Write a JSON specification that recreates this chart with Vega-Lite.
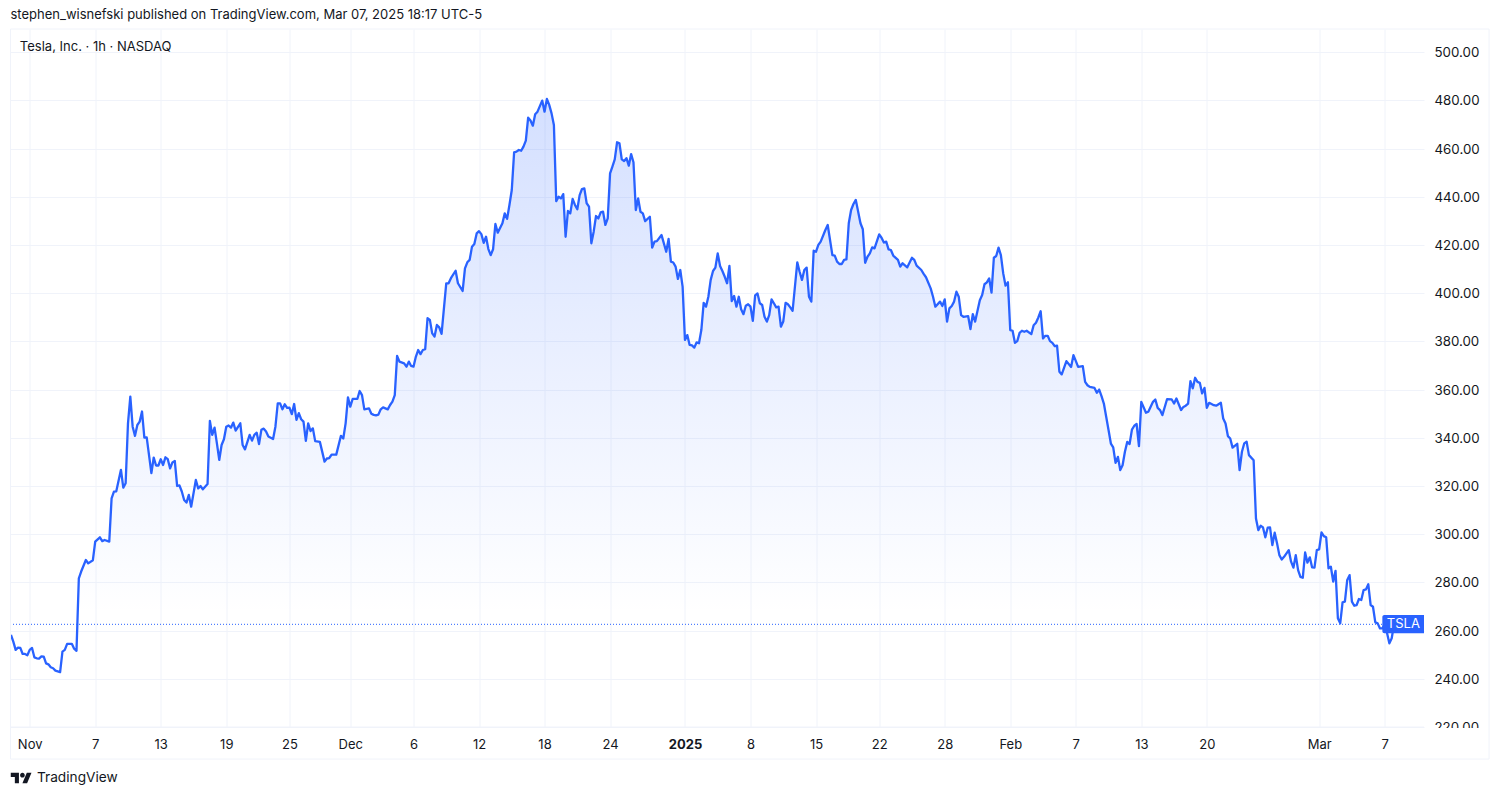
{"$schema":"https://vega.github.io/schema/vega-lite/v6.json","width":1413.5,"height":698,"autosize":{"type":"none"},"padding":{"left":10.5,"top":29,"right":76,"bottom":70},"background":"white","view":{"stroke":null},"config":{"font":"Inter"},
"title":{"text":"stephen_wisnefski published on TradingView.com, Mar 07, 2025 18:17 UTC-5","anchor":"start","frame":"group","fontSize":13,"fontWeight":"normal","color":"#131722","font":"Inter","offset":7},
"datasets":{"prices":[
{"bar":0,"close":258.2},{"bar":1,"close":255.4},{"bar":2,"close":252.0},{"bar":3,"close":252.9},{"bar":4,"close":252.8},{"bar":5,"close":250.3},{"bar":6,"close":250.3},{"bar":7,"close":249.8},{"bar":8,"close":252.0},{"bar":9,"close":252.8},{"bar":10,"close":248.9},{"bar":11,"close":248.5},{"bar":12,"close":248.4},{"bar":13,"close":249.3},{"bar":14,"close":249.2},{"bar":15,"close":246.4},{"bar":16,"close":246.0},{"bar":17,"close":244.8},{"bar":18,"close":244.4},{"bar":19,"close":243.4},{"bar":21,"close":242.8},{"bar":22,"close":251.3},{"bar":23,"close":252.0},{"bar":24,"close":254.5},{"bar":26,"close":254.5},{"bar":27,"close":252.5},{"bar":28,"close":251.6},{"bar":29,"close":281.7},{"bar":30,"close":284.5},{"bar":32,"close":289.3},{"bar":33,"close":287.9},{"bar":35,"close":289.2},{"bar":36,"close":296.9},{"bar":38,"close":298.7},{"bar":39,"close":297.1},{"bar":40,"close":297.6},{"bar":42,"close":296.9},{"bar":43,"close":314.9},{"bar":44,"close":317.7},{"bar":45,"close":317.8},{"bar":47,"close":326.7},{"bar":48,"close":319.3},{"bar":49,"close":321.1},{"bar":50,"close":346.0},{"bar":51,"close":357.1},{"bar":52,"close":344.6},{"bar":53,"close":340.8},{"bar":54,"close":345.3},{"bar":55,"close":346.7},{"bar":56,"close":350.9},{"bar":57,"close":340.1},{"bar":58,"close":340.2},{"bar":60,"close":325.3},{"bar":61,"close":331.8},{"bar":62,"close":328.5},{"bar":63,"close":328.5},{"bar":64,"close":331.1},{"bar":65,"close":328.7},{"bar":66,"close":331.9},{"bar":67,"close":331.1},{"bar":68,"close":327.3},{"bar":69,"close":329.8},{"bar":70,"close":330.4},{"bar":71,"close":320.0},{"bar":72,"close":320.2},{"bar":73,"close":317.7},{"bar":74,"close":314.2},{"bar":75,"close":313.1},{"bar":76,"close":316.3},{"bar":77,"close":311.4},{"bar":79,"close":322.5},{"bar":80,"close":319.0},{"bar":81,"close":320.0},{"bar":82,"close":318.6},{"bar":84,"close":320.8},{"bar":85,"close":347.0},{"bar":86,"close":341.2},{"bar":87,"close":344.2},{"bar":88,"close":337.7},{"bar":89,"close":330.8},{"bar":90,"close":337.0},{"bar":91,"close":339.4},{"bar":92,"close":344.6},{"bar":93,"close":345.1},{"bar":94,"close":344.2},{"bar":95,"close":346.3},{"bar":96,"close":343.0},{"bar":98,"close":346.0},{"bar":99,"close":337.0},{"bar":100,"close":335.2},{"bar":102,"close":341.2},{"bar":103,"close":338.8},{"bar":104,"close":341.2},{"bar":105,"close":342.1},{"bar":106,"close":337.4},{"bar":107,"close":343.3},{"bar":108,"close":343.8},{"bar":109,"close":342.6},{"bar":110,"close":340.5},{"bar":112,"close":339.5},{"bar":113,"close":344.6},{"bar":114,"close":354.3},{"bar":115,"close":354.3},{"bar":116,"close":351.8},{"bar":117,"close":353.9},{"bar":118,"close":352.4},{"bar":119,"close":352.5},{"bar":120,"close":349.8},{"bar":121,"close":354.0},{"bar":122,"close":347.4},{"bar":123,"close":350.2},{"bar":124,"close":347.7},{"bar":125,"close":346.7},{"bar":126,"close":338.7},{"bar":127,"close":346.0},{"bar":128,"close":342.8},{"bar":129,"close":343.9},{"bar":130,"close":338.6},{"bar":132,"close":338.3},{"bar":134,"close":330.1},{"bar":135,"close":331.4},{"bar":136,"close":331.6},{"bar":137,"close":333.0},{"bar":139,"close":333.0},{"bar":141,"close":340.8},{"bar":142,"close":339.7},{"bar":143,"close":346.0},{"bar":144,"close":356.8},{"bar":145,"close":352.9},{"bar":146,"close":356.1},{"bar":148,"close":356.1},{"bar":149,"close":359.4},{"bar":150,"close":357.7},{"bar":151,"close":351.8},{"bar":153,"close":352.2},{"bar":154,"close":350.0},{"bar":155,"close":349.5},{"bar":156,"close":349.3},{"bar":157,"close":349.6},{"bar":158,"close":351.8},{"bar":159,"close":352.6},{"bar":161,"close":351.8},{"bar":162,"close":353.6},{"bar":163,"close":355.0},{"bar":164,"close":357.7},{"bar":165,"close":374.0},{"bar":166,"close":371.6},{"bar":168,"close":370.9},{"bar":169,"close":369.5},{"bar":170,"close":371.6},{"bar":171,"close":369.8},{"bar":172,"close":369.5},{"bar":173,"close":373.6},{"bar":174,"close":376.4},{"bar":175,"close":374.7},{"bar":176,"close":376.4},{"bar":177,"close":376.8},{"bar":178,"close":389.6},{"bar":179,"close":388.9},{"bar":180,"close":383.3},{"bar":181,"close":382.0},{"bar":182,"close":386.8},{"bar":183,"close":385.8},{"bar":184,"close":383.1},{"bar":186,"close":404.1},{"bar":187,"close":404.1},{"bar":188,"close":406.2},{"bar":190,"close":409.3},{"bar":191,"close":404.1},{"bar":193,"close":400.9},{"bar":194,"close":410.3},{"bar":195,"close":412.8},{"bar":196,"close":413.8},{"bar":197,"close":419.3},{"bar":198,"close":420.4},{"bar":199,"close":424.8},{"bar":200,"close":425.7},{"bar":201,"close":424.5},{"bar":202,"close":420.9},{"bar":203,"close":423.4},{"bar":204,"close":418.3},{"bar":205,"close":415.8},{"bar":206,"close":418.2},{"bar":207,"close":428.7},{"bar":208,"close":425.1},{"bar":210,"close":429.0},{"bar":211,"close":433.1},{"bar":212,"close":430.8},{"bar":213,"close":436.6},{"bar":214,"close":442.8},{"bar":215,"close":458.4},{"bar":216,"close":458.7},{"bar":217,"close":459.4},{"bar":218,"close":459.1},{"bar":219,"close":460.8},{"bar":220,"close":463.3},{"bar":221,"close":472.8},{"bar":222,"close":471.6},{"bar":223,"close":469.5},{"bar":224,"close":474.2},{"bar":225,"close":475.3},{"bar":227,"close":479.9},{"bar":228,"close":475.3},{"bar":229,"close":480.6},{"bar":230,"close":478.1},{"bar":231,"close":474.6},{"bar":232,"close":469.8},{"bar":233,"close":438.2},{"bar":234,"close":440.0},{"bar":235,"close":439.3},{"bar":236,"close":441.1},{"bar":237,"close":423.4},{"bar":238,"close":434.1},{"bar":239,"close":433.1},{"bar":240,"close":439.1},{"bar":241,"close":436.6},{"bar":242,"close":434.8},{"bar":243,"close":440.7},{"bar":244,"close":443.2},{"bar":245,"close":443.5},{"bar":246,"close":437.3},{"bar":247,"close":435.9},{"bar":248,"close":420.7},{"bar":249,"close":425.5},{"bar":250,"close":432.0},{"bar":251,"close":431.0},{"bar":252,"close":433.5},{"bar":253,"close":433.8},{"bar":254,"close":428.3},{"bar":255,"close":431.0},{"bar":256,"close":449.7},{"bar":257,"close":452.5},{"bar":258,"close":455.5},{"bar":259,"close":462.6},{"bar":260,"close":462.2},{"bar":261,"close":455.5},{"bar":262,"close":454.8},{"bar":263,"close":456.0},{"bar":264,"close":452.9},{"bar":265,"close":457.7},{"bar":266,"close":454.3},{"bar":267,"close":434.5},{"bar":268,"close":439.3},{"bar":269,"close":433.8},{"bar":270,"close":433.1},{"bar":271,"close":429.9},{"bar":273,"close":431.7},{"bar":274,"close":418.9},{"bar":275,"close":421.4},{"bar":276,"close":421.6},{"bar":278,"close":424.1},{"bar":280,"close":417.2},{"bar":281,"close":422.5},{"bar":282,"close":413.1},{"bar":283,"close":412.7},{"bar":284,"close":411.0},{"bar":285,"close":405.9},{"bar":286,"close":409.6},{"bar":287,"close":402.7},{"bar":288,"close":380.6},{"bar":289,"close":382.6},{"bar":290,"close":378.5},{"bar":291,"close":378.3},{"bar":292,"close":377.4},{"bar":293,"close":379.6},{"bar":294,"close":379.2},{"bar":295,"close":384.7},{"bar":296,"close":396.0},{"bar":297,"close":394.4},{"bar":298,"close":398.5},{"bar":299,"close":405.5},{"bar":300,"close":409.2},{"bar":301,"close":410.6},{"bar":302,"close":416.5},{"bar":303,"close":411.3},{"bar":304,"close":409.2},{"bar":305,"close":406.8},{"bar":306,"close":404.1},{"bar":307,"close":411.3},{"bar":308,"close":396.7},{"bar":309,"close":398.8},{"bar":310,"close":394.4},{"bar":311,"close":398.5},{"bar":312,"close":393.3},{"bar":313,"close":391.3},{"bar":314,"close":394.8},{"bar":315,"close":395.4},{"bar":316,"close":394.4},{"bar":317,"close":388.5},{"bar":318,"close":399.1},{"bar":319,"close":399.9},{"bar":320,"close":395.8},{"bar":321,"close":395.1},{"bar":322,"close":390.2},{"bar":323,"close":388.2},{"bar":324,"close":390.9},{"bar":325,"close":397.4},{"bar":326,"close":395.8},{"bar":327,"close":394.1},{"bar":328,"close":394.4},{"bar":329,"close":386.1},{"bar":330,"close":388.2},{"bar":331,"close":396.0},{"bar":332,"close":395.4},{"bar":333,"close":394.1},{"bar":334,"close":392.7},{"bar":336,"close":412.8},{"bar":337,"close":408.9},{"bar":338,"close":405.5},{"bar":339,"close":409.6},{"bar":340,"close":410.6},{"bar":341,"close":398.5},{"bar":342,"close":396.5},{"bar":343,"close":417.6},{"bar":344,"close":417.2},{"bar":345,"close":420.0},{"bar":346,"close":421.4},{"bar":348,"close":426.2},{"bar":349,"close":428.3},{"bar":351,"close":415.8},{"bar":352,"close":415.6},{"bar":353,"close":413.1},{"bar":354,"close":412.1},{"bar":355,"close":412.1},{"bar":356,"close":413.8},{"bar":357,"close":414.0},{"bar":358,"close":429.0},{"bar":359,"close":434.5},{"bar":360,"close":437.0},{"bar":361,"close":438.7},{"bar":363,"close":429.0},{"bar":364,"close":426.5},{"bar":365,"close":412.6},{"bar":366,"close":415.1},{"bar":367,"close":416.5},{"bar":368,"close":419.0},{"bar":369,"close":418.6},{"bar":371,"close":424.4},{"bar":372,"close":423.0},{"bar":373,"close":421.0},{"bar":374,"close":421.4},{"bar":375,"close":418.2},{"bar":376,"close":417.9},{"bar":377,"close":415.6},{"bar":379,"close":413.8},{"bar":380,"close":411.0},{"bar":381,"close":412.4},{"bar":383,"close":410.7},{"bar":385,"close":414.7},{"bar":386,"close":413.8},{"bar":387,"close":411.4},{"bar":389,"close":409.6},{"bar":390,"close":408.0},{"bar":391,"close":406.6},{"bar":393,"close":402.0},{"bar":394,"close":398.5},{"bar":395,"close":394.4},{"bar":397,"close":396.5},{"bar":398,"close":394.7},{"bar":399,"close":397.4},{"bar":400,"close":388.2},{"bar":401,"close":393.7},{"bar":402,"close":394.7},{"bar":403,"close":396.5},{"bar":404,"close":400.6},{"bar":405,"close":398.5},{"bar":406,"close":390.9},{"bar":407,"close":390.2},{"bar":409,"close":390.5},{"bar":410,"close":385.1},{"bar":411,"close":391.3},{"bar":412,"close":388.2},{"bar":414,"close":397.1},{"bar":415,"close":399.2},{"bar":416,"close":403.7},{"bar":417,"close":404.5},{"bar":418,"close":406.1},{"bar":419,"close":400.2},{"bar":420,"close":414.7},{"bar":421,"close":415.4},{"bar":422,"close":418.9},{"bar":423,"close":415.8},{"bar":424,"close":408.2},{"bar":425,"close":403.1},{"bar":426,"close":404.5},{"bar":427,"close":384.7},{"bar":428,"close":384.4},{"bar":429,"close":379.4},{"bar":430,"close":380.1},{"bar":431,"close":383.5},{"bar":432,"close":384.4},{"bar":433,"close":384.0},{"bar":434,"close":384.4},{"bar":436,"close":383.0},{"bar":437,"close":386.7},{"bar":438,"close":387.7},{"bar":439,"close":389.9},{"bar":440,"close":392.5},{"bar":441,"close":381.2},{"bar":442,"close":382.3},{"bar":443,"close":382.3},{"bar":444,"close":380.1},{"bar":445,"close":379.4},{"bar":446,"close":378.0},{"bar":447,"close":378.2},{"bar":448,"close":367.4},{"bar":449,"close":366.3},{"bar":451,"close":371.8},{"bar":453,"close":369.4},{"bar":454,"close":374.3},{"bar":455,"close":371.9},{"bar":456,"close":369.4},{"bar":458,"close":369.7},{"bar":459,"close":363.2},{"bar":460,"close":361.8},{"bar":461,"close":361.1},{"bar":463,"close":360.7},{"bar":464,"close":358.7},{"bar":465,"close":360.0},{"bar":466,"close":357.3},{"bar":467,"close":354.2},{"bar":468,"close":348.7},{"bar":469,"close":343.2},{"bar":470,"close":337.6},{"bar":471,"close":336.0},{"bar":472,"close":329.6},{"bar":473,"close":332.1},{"bar":474,"close":326.6},{"bar":475,"close":328.6},{"bar":476,"close":334.2},{"bar":477,"close":338.3},{"bar":478,"close":337.4},{"bar":479,"close":343.4},{"bar":480,"close":345.0},{"bar":481,"close":345.7},{"bar":482,"close":336.5},{"bar":483,"close":354.9},{"bar":485,"close":350.4},{"bar":486,"close":350.8},{"bar":488,"close":354.9},{"bar":489,"close":355.9},{"bar":490,"close":352.4},{"bar":491,"close":351.5},{"bar":492,"close":349.4},{"bar":494,"close":356.0},{"bar":496,"close":355.9},{"bar":497,"close":354.2},{"bar":498,"close":356.3},{"bar":500,"close":351.5},{"bar":501,"close":352.8},{"bar":502,"close":353.3},{"bar":503,"close":354.2},{"bar":504,"close":363.5},{"bar":505,"close":360.5},{"bar":506,"close":364.9},{"bar":507,"close":363.2},{"bar":508,"close":362.8},{"bar":509,"close":358.4},{"bar":510,"close":360.7},{"bar":511,"close":352.4},{"bar":512,"close":354.5},{"bar":514,"close":353.5},{"bar":515,"close":353.3},{"bar":517,"close":354.5},{"bar":518,"close":348.0},{"bar":519,"close":345.9},{"bar":520,"close":340.7},{"bar":521,"close":339.7},{"bar":522,"close":335.9},{"bar":524,"close":337.5},{"bar":525,"close":326.6},{"bar":526,"close":334.2},{"bar":527,"close":337.7},{"bar":528,"close":338.4},{"bar":529,"close":332.8},{"bar":531,"close":330.7},{"bar":532,"close":306.5},{"bar":533,"close":301.7},{"bar":534,"close":303.5},{"bar":535,"close":302.8},{"bar":536,"close":298.7},{"bar":537,"close":302.7},{"bar":538,"close":302.8},{"bar":539,"close":295.5},{"bar":540,"close":300.6},{"bar":541,"close":296.2},{"bar":542,"close":291.3},{"bar":543,"close":289.5},{"bar":544,"close":290.6},{"bar":546,"close":293.4},{"bar":547,"close":288.6},{"bar":548,"close":286.1},{"bar":549,"close":291.3},{"bar":550,"close":285.1},{"bar":551,"close":282.3},{"bar":552,"close":281.9},{"bar":553,"close":292.4},{"bar":554,"close":288.2},{"bar":555,"close":290.4},{"bar":556,"close":286.2},{"bar":557,"close":286.1},{"bar":558,"close":293.4},{"bar":559,"close":293.7},{"bar":560,"close":300.7},{"bar":561,"close":299.2},{"bar":562,"close":298.7},{"bar":563,"close":285.8},{"bar":564,"close":286.5},{"bar":565,"close":280.3},{"bar":566,"close":284.8},{"bar":567,"close":265.1},{"bar":568,"close":263.0},{"bar":569,"close":271.7},{"bar":570,"close":272.0},{"bar":571,"close":281.0},{"bar":572,"close":283.0},{"bar":573,"close":272.0},{"bar":574,"close":270.3},{"bar":575,"close":270.6},{"bar":576,"close":273.1},{"bar":577,"close":272.7},{"bar":578,"close":276.8},{"bar":579,"close":277.1},{"bar":580,"close":279.2},{"bar":581,"close":270.6},{"bar":582,"close":269.9},{"bar":583,"close":263.4},{"bar":584,"close":263.0},{"bar":585,"close":260.9},{"bar":586,"close":260.9},{"bar":587,"close":262.5},{"bar":588,"close":259.0},{"bar":589,"close":254.7},{"bar":590,"close":256.8},{"bar":591,"close":262.6}
]},
"layer":[
{"data":{"name":"prices"},"mark":{"type":"area","color":{"gradient":"linear","x1":1,"y1":0,"x2":1,"y2":1,"stops":[{"offset":0,"color":"rgba(41,98,255,0.2)"},{"offset":0.82,"color":"rgba(41,98,255,0)"},{"offset":1,"color":"rgba(41,98,255,0)"}]}},
"encoding":{"x":{"field":"bar","type":"quantitative","scale":{"domain":[-0.2,603.8],"nice":false,"zero":false},"title":null,"axis":{"values":[8,36,64,92,119,145,172,200,228,256,288,316,344,371,399,427,455,483,511,559,587],"labelExpr":"({8:'Nov',36:'7',64:'13',92:'19',119:'25',145:'Dec',172:'6',200:'12',228:'18',256:'24',288:'2025',316:'8',344:'15',371:'22',399:'28',427:'Feb',455:'7',483:'13',511:'20',559:'Mar',587:'7'})[datum.value]","labelFontWeight":{"condition":{"test":"datum.value==288","value":"bold"},"value":"normal"},"labelFont":"Inter","labelFontSize":13,"labelColor":"#131722","labelPadding":11,"labelFlush":false,"labelOverlap":false,"ticks":false,"domain":false,"grid":true,"gridColor":"#f0f3fa","gridWidth":1}},
"y":{"field":"close","type":"quantitative","scale":{"domain":[220,509.6],"nice":false,"zero":false},"title":null,"axis":{"orient":"right","values":[220,240,260,280,300,320,340,360,380,400,420,440,460,480,500],"format":".2f","labelFont":"Inter","labelFontSize":13.3,"labelColor":"#131722","labelPadding":10,"labelOffset":0.5,"labelOverlap":false,"labelFlush":false,"ticks":false,"domain":false,"grid":true,"gridColor":"#f0f3fa","gridWidth":1}},
"y2":{"datum":220}}},
{"data":{"name":"prices"},"mark":{"type":"line","color":"#2962FF","strokeWidth":2.3,"strokeJoin":"round"},"encoding":{"x":{"field":"bar","type":"quantitative"},"y":{"field":"close","type":"quantitative"}}},
{"data":{"values":[{"price":262.6}]},"mark":{"type":"rule","color":"#2962FF","strokeWidth":1,"strokeDash":[1,2]},"encoding":{"y":{"field":"price","type":"quantitative"}}},
{"data":{"values":[{"label":"TSLA"}]},"mark":{"type":"rect","color":"#2962FF","cornerRadiusTopLeft":2,"cornerRadiusBottomLeft":2},"encoding":{"x":{"datum":586,"type":"quantitative"},"x2":{"datum":603.8},"y":{"datum":258.9,"type":"quantitative"},"y2":{"datum":266.5}}},
{"data":{"values":[{"label":"TSLA"}]},"mark":{"type":"text","color":"white","font":"Inter","fontSize":13,"align":"center","baseline":"middle"},"encoding":{"x":{"datum":595,"type":"quantitative"},"y":{"datum":262.7,"type":"quantitative"},"text":{"field":"label"}}},
{"data":{"values":[{"label":"Tesla, Inc. · 1h · NASDAQ"}]},"mark":{"type":"text","color":"#131722","font":"Inter","fontSize":13,"align":"left","baseline":"middle"},"encoding":{"x":{"datum":3.8,"type":"quantitative"},"y":{"datum":502.2,"type":"quantitative"},"text":{"field":"label"}}},
{"data":{"values":[{"label":"mask"}]},"mark":{"type":"rect","color":"white","clip":false},"encoding":{"x":{"datum":605.6,"type":"quantitative"},"x2":{"datum":630},"y":{"datum":219.6,"type":"quantitative"},"y2":{"datum":216.3}}},
{"data":{"values":[{"label":"frame"}]},"mark":{"type":"rect","fillOpacity":0,"stroke":"#f0f3fa","strokeWidth":1,"clip":false},"encoding":{"x":{"datum":-0.2,"type":"quantitative"},"x2":{"datum":631.6},"y":{"datum":206.7,"type":"quantitative"},"y2":{"datum":509.6}}},
{"data":{"values":[{"label":"axis line"}]},"mark":{"type":"rule","color":"#f0f3fa","strokeWidth":1},"encoding":{"y":{"datum":220,"type":"quantitative"}}},
{"data":{"values":[{"label":"TradingView"}]},"mark":{"type":"text","color":"#131722","font":"Inter","fontSize":13.7,"align":"left","baseline":"middle"},"encoding":{"x":{"datum":11.1,"type":"quantitative"},"y":{"datum":198.8,"type":"quantitative"},"text":{"field":"label"}}},
{"data":{"values":[{"label":"logo"}]},"mark":{"type":"point","filled":true,"color":"#131722","opacity":1,"size":441,"shape":"M-0.222 0.5H-0.611V-0.111H-1V-0.5H-0.222ZM0.556 0.5H0.111L0.528 -0.5H0.972ZM-0.111 -0.278A0.222 0.222 0 1 0 0.333 -0.278A0.222 0.222 0 1 0 -0.111 -0.278Z"},"encoding":{"x":{"datum":4.4,"type":"quantitative"},"y":{"datum":198.8,"type":"quantitative"}}}
]}
